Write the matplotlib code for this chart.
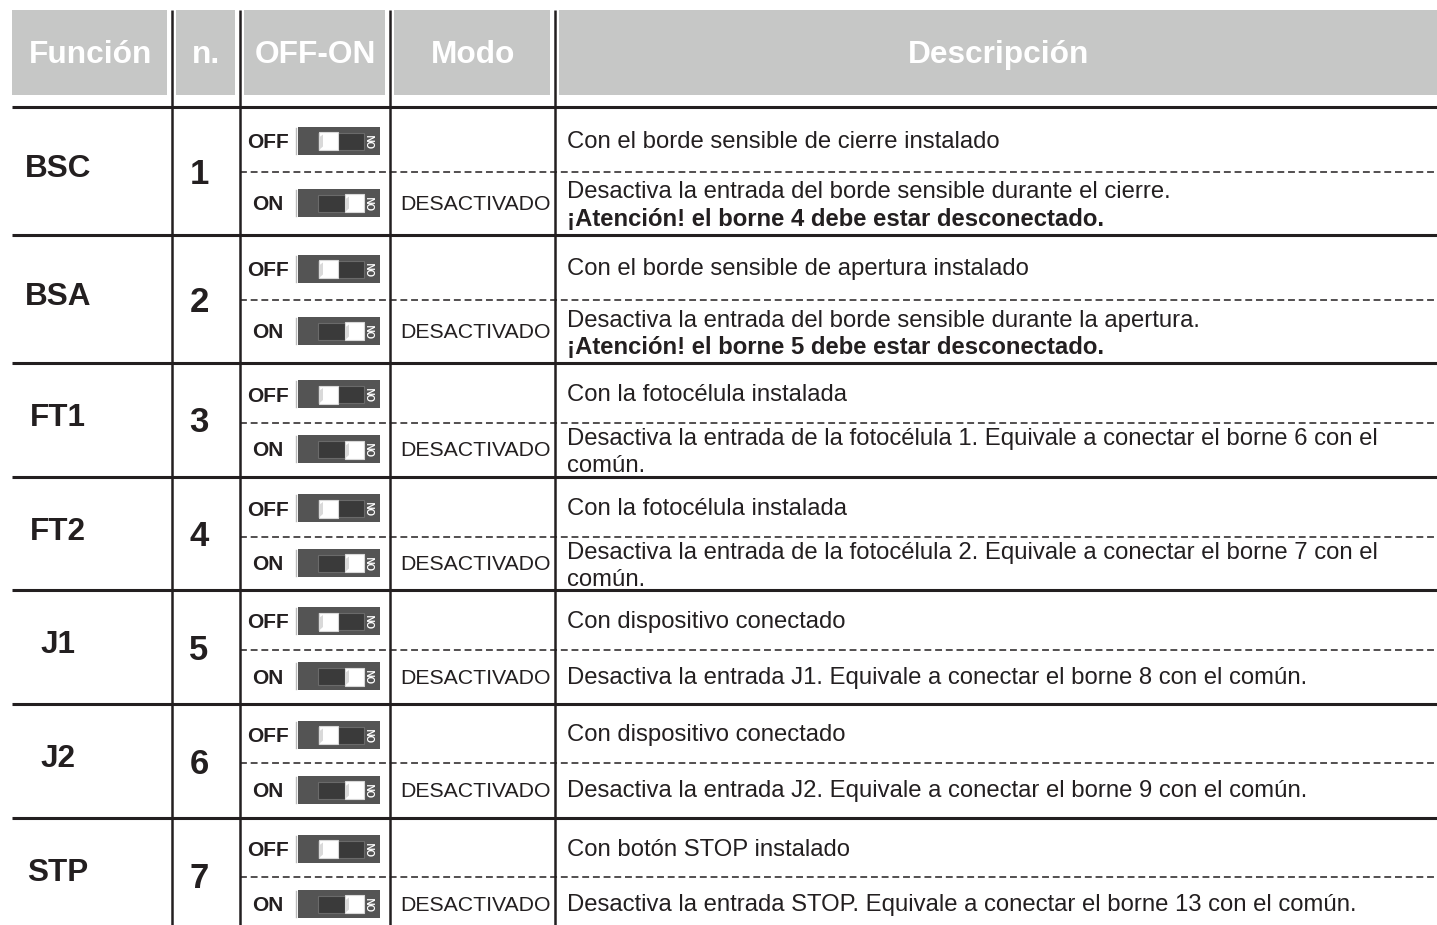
import matplotlib
matplotlib.use('Agg')
import matplotlib.pyplot as plt
from matplotlib.patches import Rectangle, Polygon

plt.rcParams['font.family'] = ['Liberation Sans', 'DejaVu Sans']

# Datos de la tabla
encabezados = ['Función', 'n.', 'OFF-ON', 'Modo', 'Descripción']
funciones = ['BSC', 'BSA', 'FT1', 'FT2', 'J1', 'J2', 'STP']
numeros = ['1', '2', '3', '4', '5', '6', '7']
modo_on = 'DESACTIVADO'
desc_off = [
    'Con el borde sensible de cierre instalado',
    'Con el borde sensible de apertura instalado',
    'Con la fotocélula instalada',
    'Con la fotocélula instalada',
    'Con dispositivo conectado',
    'Con dispositivo conectado',
    'Con botón STOP instalado',
]
desc_on = [
    'Desactiva la entrada del borde sensible durante el cierre.',
    'Desactiva la entrada del borde sensible durante la apertura.',
    'Desactiva la entrada de la fotocélula 1. Equivale a conectar el borne 6 con el\ncomún.',
    'Desactiva la entrada de la fotocélula 2. Equivale a conectar el borne 7 con el\ncomún.',
    'Desactiva la entrada J1. Equivale a conectar el borne 8 con el común.',
    'Desactiva la entrada J2. Equivale a conectar el borne 9 con el común.',
    'Desactiva la entrada STOP. Equivale a conectar el borne 13 con el común.',
]
avisos = [
    '¡Atención! el borne 4 debe estar desconectado.',
    '¡Atención! el borne 5 debe estar desconectado.',
    None, None, None, None, None,
]

# Disposición (en píxeles)
W, H = 1437, 925
col_x = [12, 172, 240, 390, 555, W]
fila_top = [107, 235, 363, 477, 590, 704, 818, 932]
fila_mid = [172, 300, 423, 537, 650, 763, 877]
TXT = '#231f20'
GRIS = '#c6c7c6'
NARROW = ['Liberation Sans Narrow', 'Liberation Sans', 'DejaVu Sans']

fig = plt.figure(figsize=(W / 100, H / 100), dpi=100)
ax = fig.add_axes([0, 0, 1, 1])
ax.set_xlim(0, W)
ax.set_ylim(H, 0)
ax.axis('off')

# encabezado
for i, t in enumerate(encabezados):
    x0 = col_x[i] + (0 if i == 0 else 4)
    x1 = col_x[i + 1] - (5 if i < 4 else 0)
    ax.add_patch(Rectangle((x0, 10), x1 - x0, 85, color=GRIS, lw=0))
    ax.text((x0 + x1) / 2 + 1, 55, t, color='white', fontsize=22.8,
            fontweight='bold', ha='center', va='center')

# líneas
for x in col_x[1:5]:
    ax.plot([x, x], [10, H + 5], color=TXT, lw=1.8, solid_capstyle='butt')
for y in fila_top[:-1]:
    ax.plot([12, W], [y, y], color=TXT, lw=2.2, solid_capstyle='butt')
for y in fila_mid:
    ax.plot([240, W], [y, y], color=TXT, lw=1.1, linestyle=(0, (4.5, 2.5)))


def interruptor(cy, encendido):
    ax.plot([295.5, 295.5], [cy - 13, cy + 13], color='#b9b9b9', lw=1.0)
    ax.add_patch(Rectangle((298, cy - 14), 82, 28, color='#545454', lw=0))
    ax.add_patch(Rectangle((318, cy - 8), 46, 17, facecolor='#3a3a3a',
                           edgecolor='#6a6a6a', lw=0.8))
    kx = 345 if encendido else 319
    ax.add_patch(Rectangle((kx, cy - 8.5), 19, 18, facecolor='white',
                           edgecolor='#d8d8d8', lw=0.8))
    # sombra del mando
    ax.add_patch(Polygon([(kx, cy - 3), (kx + 4, cy - 6), (kx + 4, cy + 6),
                          (kx, cy + 9.5)], closed=True, color='#d9d9d9', lw=0))
    ax.text(373, cy, 'ON', color='white', fontsize=7, fontweight='bold',
            rotation=90, ha='center', va='center')


for i in range(len(funciones)):
    top, mid, bot = fila_top[i], fila_mid[i], fila_top[i + 1]
    cy = (top + bot) / 2
    y_off = (top + mid) / 2
    y_on = (mid + bot) / 2
    ax.text(58, cy - 2, funciones[i], color=TXT, fontsize=22.7, fontweight='bold',
            ha='center', va='center')
    ax.text(199, cy + 3, numeros[i], color=TXT, fontsize=25, fontweight='bold',
            ha='center', va='center')
    ax.text(268, y_off + 3, 'OFF', color=TXT, fontsize=15, fontweight='bold',
            family=NARROW, ha='center', va='center')
    ax.text(268, y_on + 1, 'ON', color=TXT, fontsize=15, fontweight='bold',
            family=NARROW, ha='center', va='center')
    interruptor(y_off + 1, False)
    interruptor(y_on - 1, True)
    ax.text(400, y_on + 1, modo_on, color=TXT, fontsize=15.3, ha='left',
            va='center')
    ax.text(567, y_off + 2, desc_off[i], color=TXT, fontsize=17.2, ha='left',
            va='center')
    if avisos[i]:
        lineas = [(desc_on[i], 'normal'), (avisos[i], 'bold')]
    else:
        lineas = [(s, 'normal') for s in desc_on[i].split('\n')]
    if len(lineas) == 2:
        ys = [y_on - 11, y_on + 16]
    else:
        ys = [y_on + 1]
    for (s, peso), y in zip(lineas, ys):
        ax.text(567, y, s, color=TXT, fontsize=17.2, fontweight=peso,
                ha='left', va='center')

fig.savefig('out.png', dpi=100)
